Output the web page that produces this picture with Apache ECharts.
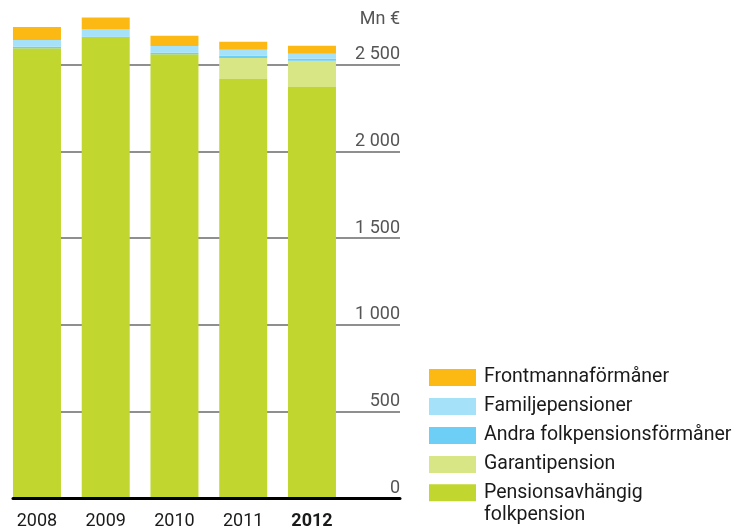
<!DOCTYPE html>
<html>
<head>
<meta charset="utf-8">
<script src="https://cdn.jsdelivr.net/npm/echarts@6/dist/echarts.min.js"></script>
<style>
  html, body { margin: 0; padding: 0; background: #fff; }
  #chart { width: 739px; height: 532px; }
</style>
</head>
<body>
<div id="chart"></div>
<script>
// data (Mn €)
const years = ['2008', '2009', '2010', '2011', '2012'];
const pensionsavhangig = [2594, 2659, 2559, 2417, 2371];
const garantipension = [0, 0, 0, 121, 150];
const andraFormaner = [8, 3, 8, 12, 12];
const familjepensioner = [39, 40, 40, 35, 29];
const frontmanna = [75, 69, 58, 46, 46];
const yTicks = [0, 500, 1000, 1500, 2000, 2500];

const FONT = 'Roboto';
const LAST_NAME = 'Pensionsavhängig folkpension';

const chart = echarts.init(document.getElementById('chart'));

function bar(name, data, color) {
  return {
    name: name,
    type: 'bar',
    stack: 'total',
    xAxisIndex: 1,
    yAxisIndex: 1,
    barWidth: 48,
    clip: false,
    itemStyle: { color: color },
    emphasis: { disabled: true },
    data: data
  };
}

// shared legend look
const legendBase = {
  orient: 'vertical', left: 429, padding: 0,
  itemWidth: 47, itemHeight: 17, itemGap: 9,
  icon: 'rect', selectedMode: false,
  textStyle: { fontSize: 19.5, lineHeight: 20, color: '#1a1a1a', fontFamily: FONT, padding: [0, 0, 0, 3] }
};

const option = {
  animation: false,
  textStyle: { fontFamily: FONT },
  title: {
    text: 'Mn €', right: 339, top: 10, padding: 0,
    textStyle: { color: '#555', fontSize: 18, fontWeight: 'normal', fontFamily: FONT }
  },
  grid: [
    // grid holding the value scale lines and the black base line
    { left: 13, right: 339, top: 64.5, bottom: 33.7 },
    // grid holding the bars
    { left: 2.6, width: 343.75, top: 64.5, bottom: 33.7 }
  ],
  xAxis: [
    {
      gridIndex: 0, type: 'value', min: 0, max: 1, z: 3,
      axisLine: { show: true, onZero: false, lineStyle: { color: '#000', width: 3 } },
      axisTick: { show: false }, axisLabel: { show: false }, splitLine: { show: false }
    },
    {
      gridIndex: 1, type: 'category', data: years,
      axisLine: { show: false }, axisTick: { show: false },
      axisLabel: {
        interval: 0, margin: 14, fontSize: 18, color: '#1a1a1a', fontFamily: FONT,
        formatter: v => v === '2012' ? '{b|' + v + '}' : v,
        rich: { b: { fontWeight: 'bold', fontSize: 18, color: '#1a1a1a', fontFamily: FONT } }
      }
    }
  ],
  yAxis: [
    {
      gridIndex: 0, type: 'value', position: 'right',
      min: yTicks[0], max: yTicks[yTicks.length - 1], interval: 500,
      axisLine: { show: false, onZero: false }, axisTick: { show: false },
      axisLabel: {
        inside: true, margin: 0, color: '#555', fontSize: 18, fontFamily: FONT,
        verticalAlign: 'bottom', padding: [0, 0, 1, 0],
        formatter: v => String(v).replace(/\B(?=(\d{3})+(?!\d))/g, ' ')
      },
      splitLine: { show: true, lineStyle: { color: '#6a6a6a', width: 1.5 } }
    },
    {
      gridIndex: 1, type: 'value', min: 0, max: 2500, show: false
    }
  ],
  legend: [
    Object.assign({}, legendBase, {
      top: 367.5,
      data: ['Frontmannaförmåner', 'Familjepensioner', 'Andra folkpensionsförmåner', 'Garantipension']
    }),
    // two-line entry: an empty first line keeps "Pensionsavhängig" level with the swatch
    Object.assign({}, legendBase, {
      top: 459.8,
      formatter: () => ' \nPensionsavhängig\nfolkpension',
      textStyle: Object.assign({}, legendBase.textStyle, { lineHeight: 22 }),
      data: [LAST_NAME]
    })
  ],
  series: [
    bar(LAST_NAME, pensionsavhangig, '#c1d72f'),
    bar('Garantipension', garantipension, '#d8e685'),
    bar('Andra folkpensionsförmåner', andraFormaner, '#6dcff6'),
    bar('Familjepensioner', familjepensioner, '#a6e1fa'),
    bar('Frontmannaförmåner', frontmanna, '#fdb913')
  ]
};

chart.setOption(option);
</script>
</body>
</html>
